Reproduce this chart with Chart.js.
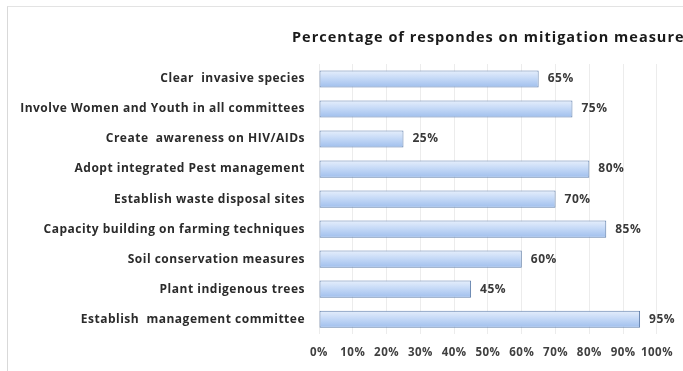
<!DOCTYPE html>
<html>
<head>
<meta charset="utf-8">
<script src="https://cdn.jsdelivr.net/npm/chart.js@4.4.1/dist/chart.umd.min.js"></script>
<style>
  html, body { margin: 0; padding: 0; background: #fff; overflow: hidden; }
  #frame {
    position: absolute; left: 7px; top: 6px; width: 676px; height: 365px;
    border-left: 1px solid #d9d9d9; border-top: 1px solid #e3e3e3;
  }
</style>
</head>
<body>
<div id="frame"><canvas id="chart_1"></canvas></div>
<script>
// data
var measures = [
    'Clear  invasive species',
    'Involve Women and Youth in all committees',
    'Create  awareness on HIV/AIDs',
    'Adopt integrated Pest management',
    'Establish waste disposal sites',
    'Capacity building on farming techniques',
    'Soil conservation measures',
    'Plant indigenous trees',
    'Establish  management committee'
];
var percentages = [65, 75, 25, 80, 70, 85, 60, 45, 95];
var xTicks = [0, 10, 20, 30, 40, 50, 60, 70, 80, 90, 100];
var chartTitle = 'Percentage of respondes on mitigation measures';

// slightly wider letters, like the original font
var spacingPlugin = {
    id: 'spacing',
    beforeDraw: function(chart) { chart.ctx.letterSpacing = '0.5px'; }
};

// title drawn at left like the original (runs off the right edge)
var titlePlugin = {
    id: 'leftTitle',
    afterDraw: function(chart) {
        var c = chart.ctx;
        c.save();
        c.font = 'bold 14.5px "Open Sans"';
        c.letterSpacing = '1px';
        c.fillStyle = '#1a1a1a';
        c.textBaseline = 'middle';
        c.textAlign = 'left';
        c.fillText(chartTitle, 284, 31);
        c.restore();
    }
};

// value labels at bar ends
var valuePlugin = {
    id: 'valueLabels',
    afterDatasetsDraw: function(chart) {
        var c = chart.ctx;
        var meta = chart.getDatasetMeta(0);
        c.save();
        c.font = 'bold 12px "Open Sans"';
        c.fillStyle = '#3a3a3a';
        c.textBaseline = 'middle';
        c.textAlign = 'left';
        meta.data.forEach(function(bar, i) {
            c.fillText(percentages[i] + '%', bar.x + 9, bar.y);
        });
        c.restore();
    }
};

function barGradient(context) {
    var chart = context.chart;
    if (!chart.chartArea || !chart.scales.y) return '#b9d1f4';
    var y = chart.scales.y.getPixelForValue(context.dataIndex);
    var g = chart.ctx.createLinearGradient(0, y - 9, 0, y + 9);
    g.addColorStop(0, '#e8f0fc');
    g.addColorStop(0.5, '#c2d7f6');
    g.addColorStop(1, '#9dbdec');
    return g;
}

new Chart(document.getElementById("chart_1"),
    {
        "type": "bar",
        "data": {
            labels: measures,
            "datasets": [
                {
                    "data": percentages,
                    "backgroundColor": barGradient,
                    "borderColor": "#5f7eaa",
                    "borderWidth": 1,
                    "borderSkipped": false,
                    "barPercentage": 0.57,
                    "categoryPercentage": 1
                }
            ]
        },
        "options": {
            indexAxis: 'y',
            responsive: true,
            maintainAspectRatio: false,
            animation: false,
            layout: { padding: { top: 57, right: 23, bottom: 0, left: 0 } },
            plugins: {
                legend: { display: false },
                title: { display: false },
                tooltip: { enabled: false }
            },
            scales: {
                x: {
                    min: 0,
                    max: 100,
                    afterBuildTicks: function(scale) {
                        scale.ticks = xTicks.map(function(v) { return { value: v }; });
                    },
                    ticks: {
                        callback: function(v) { return v + '%'; },
                        font: { family: 'Open Sans', size: 11.5, weight: 'bold' },
                        color: '#404040',
                        padding: 12,
                        autoSkip: false,
                        maxRotation: 0
                    },
                    grid: { color: '#ececec', drawTicks: false },
                    border: { display: false }
                },
                y: {
                    afterFit: function(scale) { scale.width = 311; },
                    ticks: {
                        font: { family: 'Open Sans', size: 12, weight: 'bold' },
                        color: '#2b2b2b',
                        padding: 14
                    },
                    grid: { display: false, drawTicks: false },
                    border: { display: false }
                }
            }
        },
        plugins: [spacingPlugin, titlePlugin, valuePlugin]
    });
</script>
</body>
</html>
